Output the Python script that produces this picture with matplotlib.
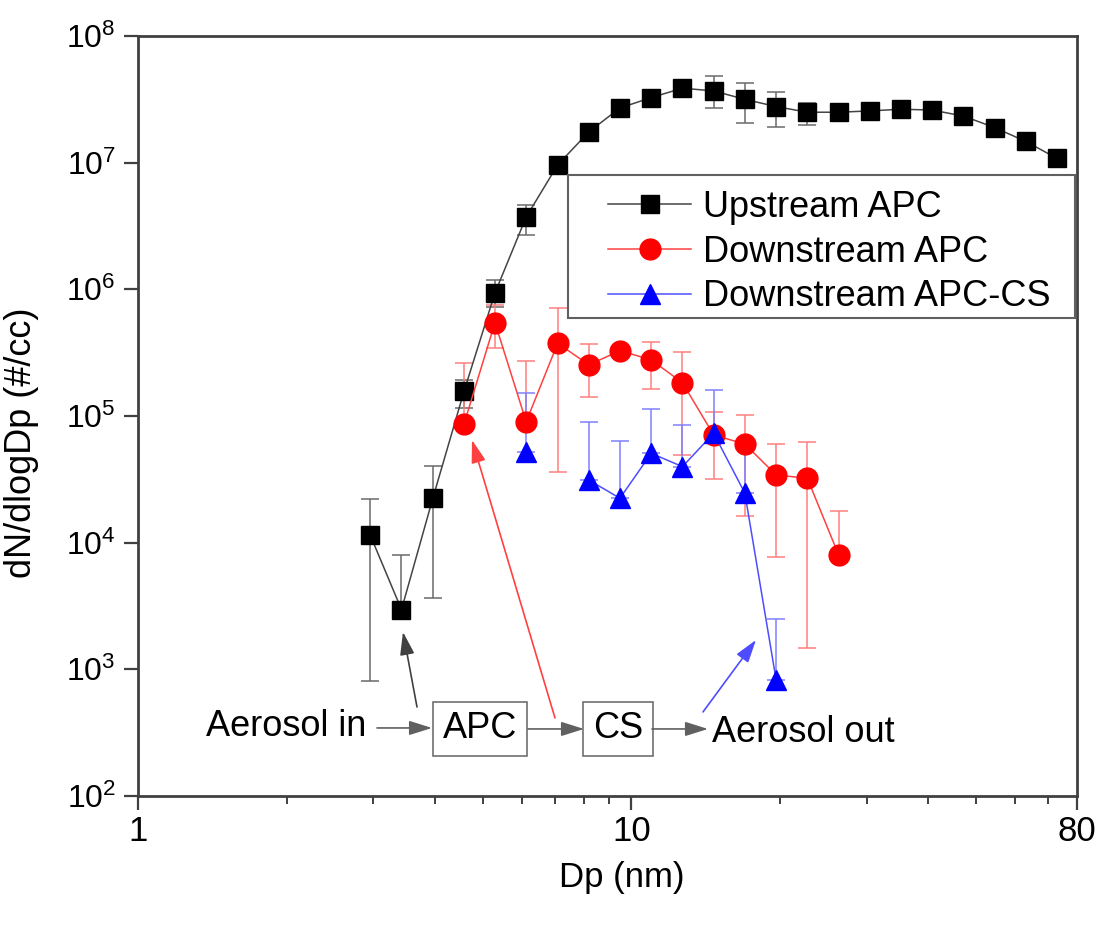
import numpy as np
import matplotlib
matplotlib.use('Agg')
import matplotlib.pyplot as plt
from matplotlib.patches import Rectangle
from matplotlib.ticker import NullLocator, NullFormatter, FixedLocator, FixedFormatter

plt.rcParams['font.family'] = ['Liberation Sans', 'DejaVu Sans']
plt.rcParams['mathtext.fontset'] = 'custom'
plt.rcParams['mathtext.rm'] = 'Liberation Sans'

# ---- data ----
dp = [2.955, 3.42, 3.96, 4.58, 5.29, 6.12, 7.09, 8.20, 9.48, 10.97, 12.69, 14.68,
      16.98, 19.65, 22.73, 26.30, 30.42, 35.20, 40.72, 47.1, 54.5, 63.0, 72.9]

# Upstream APC (all 23 sizes)
up_y  = [1.15e4, 2960, 2.25e4, 1.57e5, 9.35e5, 3.72e6, 9.6e6, 1.75e7, 2.7e7, 3.26e7, 3.87e7, 3.68e7,
         3.16e7, 2.77e7, 2.5e7, 2.5e7, 2.56e7, 2.64e7, 2.6e7, 2.33e7, 1.89e7, 1.47e7, 1.08e7]
up_lo = [810, 2960, 3660, 1.16e5, 7.3e5, 2.68e6, 8.4e6, 1.6e7, 2.5e7, 3.26e7, 3.87e7, 2.7e7,
         2.07e7, 1.92e7, 1.98e7, 2.5e7, 2.56e7, 2.64e7, 2.6e7, 2.33e7, 1.89e7, 1.47e7, 1.08e7]
up_hi = [2.2e4, 8000, 4.03e4, 1.92e5, 1.19e6, 4.63e6, 1.11e7, 1.9e7, 2.9e7, 3.26e7, 3.87e7, 4.8e7,
         4.24e7, 3.6e7, 2.97e7, 2.5e7, 2.56e7, 2.64e7, 2.6e7, 2.33e7, 1.89e7, 1.47e7, 1.08e7]

# Downstream APC (sizes 4.58 .. 26.3)
dn_x  = dp[3:16]
dn_y  = [8.65e4, 5.46e5, 9.0e4, 3.75e5, 2.53e5, 3.28e5, 2.77e5, 1.83e5, 7.08e4, 6.0e4, 3.42e4, 3.22e4, 8000]
dn_lo = [8.65e4, 3.42e5, 9.0e4, 3.63e4, 1.42e5, 3.28e5, 1.63e5, 4.92e4, 3.16e4, 1.63e4, 7650, 1470, 8000]
dn_hi = [2.64e5, 7.5e5, 2.72e5, 7.08e5, 3.68e5, 3.28e5, 3.87e5, 3.18e5, 1.08e5, 1.02e5, 6.0e4, 6.27e4, 1.79e4]

# Downstream APC-CS (sizes 6.12 .. 19.65, 7.09 missing)
cs_x  = dp[5:14]
cs_y  = [5.22e4, np.nan, 3.12e4, 2.24e4, 5.07e4, 3.98e4, 7.3e4, 2.46e4, 824]
cs_hi = [1.53e5, np.nan, 8.9e4, 6.35e4, 1.13e5, 8.5e4, 1.6e5, 5.6e4, 2490]

# ---- figure ----
fig = plt.figure(figsize=(11.12, 9.34), dpi=100)
ax = fig.add_axes([0.1241, 0.1478, 0.8444, 0.8137])
ax.set_xscale('log')
ax.set_yscale('log')


def errs(y, lo, hi):
    y = np.array(y, float)
    return [y - np.array(lo, float), np.array(hi, float) - y]


cs_lo = cs_y
ax.errorbar(dp, up_y, yerr=errs(up_y, up_lo, up_hi), fmt='none', ecolor='#6a6a6a',
            elinewidth=1.1, capsize=6.5, capthick=1.1, zorder=2)
ax.errorbar(dn_x, dn_y, yerr=errs(dn_y, dn_lo, dn_hi), fmt='none', ecolor='#ff8080',
            elinewidth=1.1, capsize=6.5, capthick=1.1, zorder=2)
ax.errorbar(cs_x, cs_y, yerr=errs(cs_y, cs_lo, cs_hi), fmt='none', ecolor='#8080ff',
            elinewidth=1.1, capsize=6.5, capthick=1.1, zorder=2)

ax.plot(dp, up_y, '-', color='#444444', lw=1.1, marker='s', ms=13,
        mfc='black', mec='black', label='Upstream APC', zorder=3)
ax.plot(dn_x, dn_y, '-', color='#ff4040', lw=1.1, marker='o', ms=15,
        mfc='red', mec='red', label='Downstream APC', zorder=3)
ax.plot(cs_x, cs_y, '-', color='#4d4dff', lw=1.1, marker='^', ms=15,
        mfc='blue', mec='blue', label='Downstream APC-CS', zorder=3)

ax.set_xlim(1, 80)
ax.set_ylim(1e2, 1e8)

# axes styling
for s in ax.spines.values():
    s.set_linewidth(2.0)
    s.set_color('#404040')
ax.xaxis.set_major_locator(FixedLocator([1, 10, 80]))
ax.xaxis.set_major_formatter(FixedFormatter(['1', '10', '80']))
ax.xaxis.set_minor_formatter(NullFormatter())
ax.yaxis.set_minor_locator(NullLocator())
ax.tick_params(axis='both', which='major', direction='out', length=10, width=1.6,
               color='#404040', top=False, right=False)
ax.tick_params(axis='x', which='minor', direction='out', length=5.5, width=1.4,
               color='#404040', top=False)
ax.tick_params(axis='x', which='major', labelsize=25, pad=4)
ax.tick_params(axis='y', which='major', labelsize=23, pad=6)

ax.set_xlabel('Dp (nm)', fontsize=25)
ax.set_ylabel('dN/dlogDp (#/cc)', fontsize=26)
ax.xaxis.set_label_coords(0.515, -0.085)
ax.yaxis.set_label_coords(-0.105, 0.465)


def frac(px, py):
    # pixel position in the figure -> axes fraction
    return ((px - 138) / 939, (796 - py) / 760)


# legend with its own frame
ax.add_patch(Rectangle(frac(568, 318), 507 / 939, 143 / 760, transform=ax.transAxes,
                       facecolor='white', edgecolor='#606060', lw=1.5, zorder=4))
leg = ax.legend(loc='upper left', bbox_to_anchor=frac(608, 190), frameon=False,
                fontsize=26, borderpad=0, borderaxespad=0, labelspacing=0.27,
                handlelength=2.3, handletextpad=0.33)
leg.set_zorder(5)

# flow diagram
ax.text(*frac(366, 727), 'Aerosol in', transform=ax.transAxes, fontsize=26,
        ha='right', va='center')
ax.text(*frac(480, 729), 'APC', transform=ax.transAxes, fontsize=26, ha='center', va='center',
        bbox=dict(boxstyle='square,pad=0.27', fc='white', ec='#707070', lw=1.2))
ax.text(*frac(618, 729), 'CS', transform=ax.transAxes, fontsize=26, ha='center', va='center',
        bbox=dict(boxstyle='square,pad=0.27', fc='white', ec='#707070', lw=1.2))
ax.text(*frac(712, 733), 'Aerosol out', transform=ax.transAxes, fontsize=26,
        ha='left', va='center')

arrows = [
    ((377, 728), (432, 728), '#606060'),
    ((528, 729), (584, 729), '#606060'),
    ((652, 729), (708, 729), '#606060'),
    ((417, 707), (403, 632), '#404040'),
    ((555, 718), (472, 440), '#ff4040'),
    ((703, 712), (756, 640), '#4d4dff'),
]
for start, tip, col in arrows:
    ax.annotate('', xy=frac(*tip), xytext=frac(*start), xycoords='axes fraction',
                textcoords='axes fraction',
                arrowprops=dict(arrowstyle='-|>,head_length=0.7,head_width=0.22',
                                color=col, lw=1.2, mutation_scale=20,
                                shrinkA=0, shrinkB=0))

fig.savefig('out.png', dpi=100, facecolor='white')
